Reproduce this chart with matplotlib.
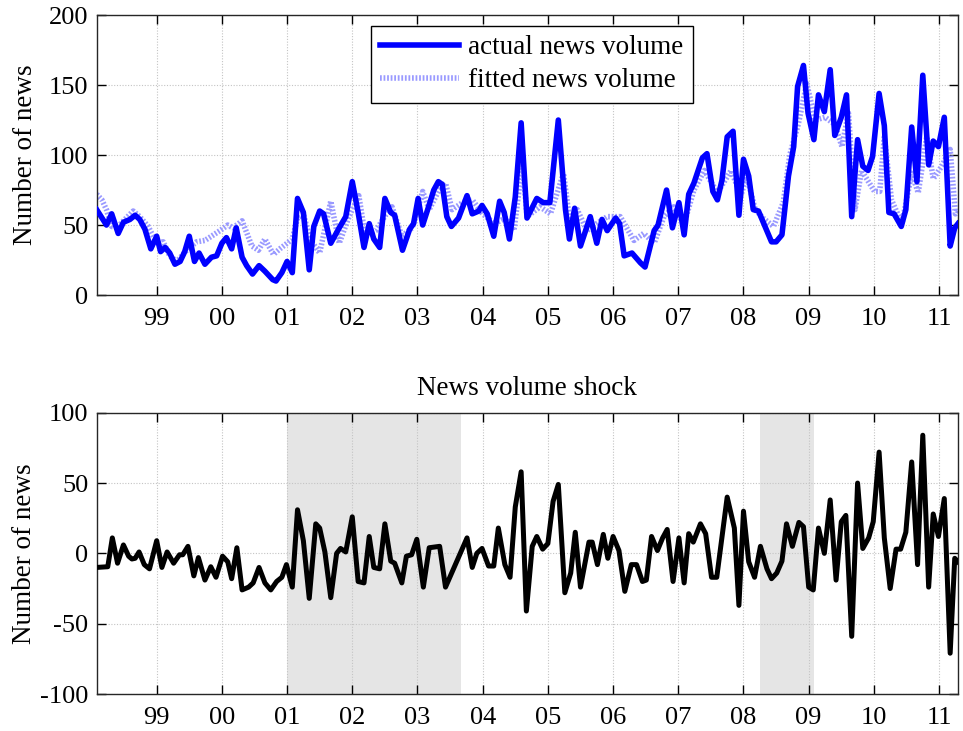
import numpy as np
import matplotlib.pyplot as plt

# actual news volume (year, count)
act_t = [1998.08, 1998.23, 1998.31, 1998.41, 1998.49, 1998.59, 1998.67, 1998.74, 1998.82, 1998.91,
         1999.0, 1999.06, 1999.13, 1999.2, 1999.28, 1999.36, 1999.43, 1999.5, 1999.58, 1999.65,
         1999.74, 1999.84, 1999.92, 2000.0, 2000.07, 2000.15, 2000.22, 2000.31, 2000.38, 2000.47,
         2000.57, 2000.66, 2000.78, 2000.83, 2000.92, 2001.0, 2001.08, 2001.16, 2001.25, 2001.34,
         2001.41, 2001.5, 2001.56, 2001.67, 2001.8, 2001.9, 2002.0, 2002.09, 2002.18, 2002.26,
         2002.33, 2002.42, 2002.5, 2002.59, 2002.65, 2002.77, 2002.88, 2002.94, 2003.01, 2003.08,
         2003.17, 2003.25, 2003.32, 2003.38, 2003.45, 2003.52, 2003.63, 2003.76, 2003.84, 2003.94,
         2003.99, 2004.07, 2004.17, 2004.26, 2004.33, 2004.41, 2004.5, 2004.59, 2004.68, 2004.83,
         2004.93, 2005.03, 2005.16, 2005.27, 2005.33, 2005.41, 2005.5, 2005.65, 2005.75, 2005.83,
         2005.91, 2006.04, 2006.1, 2006.17, 2006.29, 2006.42, 2006.49, 2006.63, 2006.69, 2006.82,
         2006.91, 2007.01, 2007.09, 2007.16, 2007.24, 2007.37, 2007.44, 2007.53, 2007.6, 2007.67,
         2007.75, 2007.84, 2007.93, 2008.0, 2008.08, 2008.15, 2008.23, 2008.33, 2008.43, 2008.5,
         2008.59, 2008.69, 2008.77, 2008.83, 2008.92, 2008.99, 2009.08, 2009.15, 2009.24, 2009.33,
         2009.4, 2009.5, 2009.58, 2009.66, 2009.75, 2009.83, 2009.91, 2009.98, 2010.08, 2010.16,
         2010.23, 2010.31, 2010.42, 2010.49, 2010.58, 2010.66, 2010.75, 2010.84, 2010.91, 2010.99,
         2011.08, 2011.17, 2011.24, 2011.29]
act_v = [61, 50, 58, 44, 52, 54, 57, 54, 47, 33,
         42, 31, 34, 30, 22, 24, 31, 42, 24, 30,
         22, 27, 28, 37, 41, 33, 48, 27, 21, 15,
         21, 17, 11, 10, 16, 24, 16, 69, 59, 18,
         49, 60, 58, 37, 48, 56, 81, 59, 34, 51,
         40, 34, 69, 59, 57, 32, 47, 51, 69, 50,
         63, 75, 81, 79, 56, 49, 55, 71, 58, 60,
         64, 58, 42, 67, 59, 40, 70, 123, 55, 69,
         66, 66, 125, 61, 40, 62, 35, 56, 37, 54,
         46, 55, 51, 28, 30, 23, 20, 46, 50, 75,
         48, 66, 43, 72, 80, 98, 101, 74, 68, 82,
         113, 117, 57, 97, 85, 61, 60, 49, 38, 38,
         43, 85, 106, 149, 164, 130, 111, 143, 131, 161,
         114, 127, 143, 56, 111, 92, 89, 99, 144, 121,
         59, 58, 49, 61, 120, 81, 157, 93, 110, 106,
         127, 35, 48, 51]

# fitted news volume
fit_t = [1998.08, 1998.16, 1998.23, 1998.31, 1998.39, 1998.49, 1998.64, 1998.74, 1998.87, 1999.0,
         1999.1, 1999.2, 1999.31, 1999.46, 1999.61, 1999.74, 1999.84, 1999.97, 2000.09, 2000.17,
         2000.31, 2000.46, 2000.56, 2000.66, 2000.79, 2000.89, 2001.0, 2001.08, 2001.16, 2001.25,
         2001.35, 2001.5, 2001.67, 2001.8, 2001.95, 2002.1, 2002.2, 2002.36, 2002.51, 2002.61,
         2002.76, 2002.92, 2003.08, 2003.18, 2003.33, 2003.43, 2003.53, 2003.69, 2003.84, 2004.0,
         2004.18, 2004.35, 2004.48, 2004.61, 2004.68, 2004.88, 2005.04, 2005.24, 2005.34, 2005.45,
         2005.6, 2005.75, 2005.91, 2006.11, 2006.32, 2006.47, 2006.63, 2006.78, 2006.93, 2007.09,
         2007.24, 2007.4, 2007.6, 2007.81, 2007.96, 2008.05, 2008.18, 2008.3, 2008.46, 2008.61,
         2008.71, 2008.84, 2008.97, 2009.1, 2009.25, 2009.4, 2009.51, 2009.61, 2009.71, 2009.81,
         2010.01, 2010.09, 2010.16, 2010.27, 2010.43, 2010.58, 2010.68, 2010.81, 2010.91, 2011.04,
         2011.17, 2011.25, 2011.29]
fit_v = [72, 68, 61, 49, 48, 53, 60, 56, 49, 37,
         38, 28, 24, 32, 38, 39, 42, 46, 50, 48,
         53, 35, 32, 40, 29, 33, 37, 40, 55, 58,
         40, 30, 67, 37, 56, 71, 42, 46, 57, 63,
         42, 48, 74, 61, 75, 80, 61, 66, 68, 58,
         51, 55, 46, 95, 56, 63, 58, 87, 51, 61,
         46, 51, 56, 56, 39, 44, 37, 56, 63, 51,
         75, 89, 73, 89, 71, 85, 61, 55, 49, 66,
         100, 122, 151, 125, 127, 122, 106, 130, 61, 89,
         74, 74, 113, 68, 51, 87, 73, 113, 83, 92,
         104, 58, 61]

# news volume shock
shk_t = [1998.08, 1998.25, 1998.32, 1998.4, 1998.49, 1998.57, 1998.62, 1998.67, 1998.73, 1998.81,
         1998.89, 1999.0, 1999.08, 1999.16, 1999.26, 1999.35, 1999.4, 1999.48, 1999.57, 1999.64,
         1999.74, 1999.83, 1999.91, 2000.01, 2000.09, 2000.15, 2000.23, 2000.31, 2000.41, 2000.48,
         2000.57, 2000.66, 2000.75, 2000.84, 2000.92, 2000.99, 2001.08, 2001.16, 2001.25, 2001.34,
         2001.44, 2001.5, 2001.58, 2001.67, 2001.76, 2001.82, 2001.9, 2002.0, 2002.09, 2002.18,
         2002.26, 2002.33, 2002.42, 2002.5, 2002.59, 2002.65, 2002.76, 2002.83, 2002.91, 2002.99,
         2003.09, 2003.18, 2003.34, 2003.43, 2003.76, 2003.84, 2003.91, 2003.99, 2004.09, 2004.17,
         2004.24, 2004.34, 2004.42, 2004.5, 2004.59, 2004.67, 2004.76, 2004.83, 2004.92, 2005.0,
         2005.08, 2005.16, 2005.26, 2005.35, 2005.42, 2005.5, 2005.63, 2005.68, 2005.76, 2005.85,
         2005.92, 2006.0, 2006.09, 2006.18, 2006.28, 2006.36, 2006.45, 2006.51, 2006.59, 2006.68,
         2006.76, 2006.83, 2006.92, 2007.01, 2007.09, 2007.16, 2007.23, 2007.34, 2007.42, 2007.51,
         2007.59, 2007.75, 2007.86, 2007.93, 2008.0, 2008.08, 2008.17, 2008.26, 2008.36, 2008.43,
         2008.51, 2008.59, 2008.66, 2008.75, 2008.85, 2008.92, 2009.0, 2009.07, 2009.15, 2009.24,
         2009.33, 2009.42, 2009.5, 2009.57, 2009.66, 2009.75, 2009.83, 2009.92, 2009.99, 2010.08,
         2010.16, 2010.25, 2010.34, 2010.41, 2010.49, 2010.58, 2010.67, 2010.75, 2010.84, 2010.91,
         2010.99, 2011.08, 2011.17, 2011.24, 2011.29]
shk_v = [-10, -9.5, 11, -7, 6, -2, -4, -3.5, 1, -8,
         -11, 9, -10, 1, -7, -1, -1, 5, -16, -3,
         -19, -9.5, -17, -2, -6, -18, 4, -26, -24, -21,
         -10, -21, -26, -20, -17, -8, -24, 31, 9, -32,
         21, 18, 1, -31.5, 0, 3.5, 1, 26, -20, -21,
         12, -10, -11, 21, -5.5, -7, -21, -2, -1, 10,
         -24, 4, 5, -24, 11, -10, 0, 3.5, -9, -9,
         18, -8, -17, 33, 58, -41, 5, 12, 3, 7,
         37, 49, -28, -14, 15, -24, 8, 8, -8, 13.5,
         -3.5, 12, 2, -27, -8, -8, -20, -19, 12, 2,
         11, 17, -20, 11, -21, 14, 8, 21, 14, -17,
         -17, 40, 18, -37, 30, -6, -17, 5, -11, -18,
         -14, -5.5, 21, 5, 22, 19, -24, -26, 18, 0,
         38, -19, 22.5, 27, -59, 50, 3.5, 11, 22.5, 72,
         11, -25, 3, 3, 15, 65, -8, 84, -24, 28,
         12, 39, -71, -3.5, -6]

shade = [(2001.0, 2003.67), (2008.26, 2009.08)]
years = list(range(1999, 2012))
year_labels = ['%02d' % (y % 100) for y in years]

plt.rcParams['font.family'] = ['Liberation Serif', 'DejaVu Serif']
plt.rcParams['font.size'] = 19
plt.rcParams['axes.unicode_minus'] = False

fig = plt.figure(figsize=(9.63, 7.31), dpi=100)
ax1 = fig.add_axes([0.1004, 0.5964, 0.8944, 0.383])
ax2 = fig.add_axes([0.1004, 0.0506, 0.8944, 0.3848])

xlim = (1998.08, 2011.29)


def style(ax):
    ax.set_xlim(*xlim)
    ax.set_xticks(years)
    ax.set_xticklabels(year_labels)
    ax.grid(True, color='#c4c4c4', linestyle=(0, (1, 1.5)), linewidth=0.8)
    ax.tick_params(direction='in', length=6.5, width=1, top=True, right=True,
                   labelsize=19, pad=6)
    ax.tick_params(axis='x', pad=9)
    for s in ax.spines.values():
        s.set_color('#262626')
        s.set_linewidth(1)
    ax.set_axisbelow(True)


ax1.plot(act_t, act_v, color='#0000ff', lw=4, label='actual news volume', zorder=3)
ax1.plot(fit_t, fit_v, color='#9a9aff', lw=4, linestyle=(0, (0.32, 0.32)),
         label='fitted news volume', zorder=2)
ax1.set_ylim(0, 200)
ax1.set_yticks([0, 50, 100, 150, 200])
ax1.set_ylabel('Number of news', fontsize=19.5, labelpad=8)
style(ax1)
leg = ax1.legend(loc='upper center', bbox_to_anchor=(0.505, 0.962), fontsize=19.5,
                 fancybox=False, framealpha=1, edgecolor='black', handlelength=2.9,
                 handletextpad=0.35, borderpad=0.35, labelspacing=0.3, borderaxespad=0)
leg.get_frame().set_linewidth(1)

for a, b in shade:
    ax2.axvspan(a, b, color='#e5e5e5', lw=0, zorder=0)
ax2.plot(shk_t, shk_v, color='black', lw=3.6, zorder=3)
ax2.set_ylim(-100, 100)
ax2.set_yticks([-100, -50, 0, 50, 100])
ax2.set_ylabel('Number of news', fontsize=19.5, labelpad=2)
ax2.set_title('News volume shock', fontsize=19.5, pad=13)
style(ax2)

fig.savefig('out.png', dpi=100)
